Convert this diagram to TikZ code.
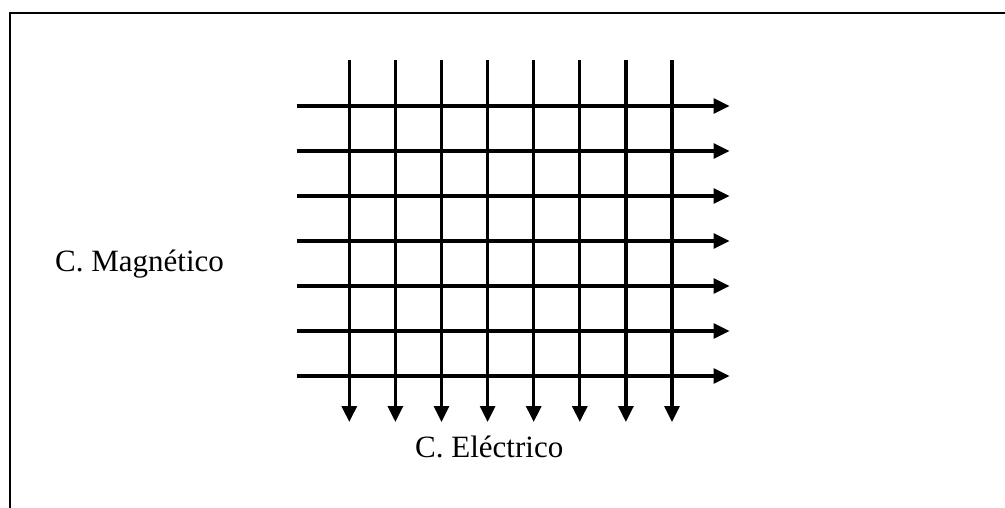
\documentclass[tikz,border=0pt]{standalone}
\usepackage{fontspec}
\setmainfont{Liberation Serif}
\usetikzlibrary{arrows.meta}
\begin{document}
\begin{tikzpicture}[x=1pt,y=-1pt,
  frame/.style={line width=2pt, line cap=butt},
  field/.style={line width=3.2pt, -{Triangle[length=16pt,width=15pt]}},
  lbl/.style={inner sep=0pt, anchor=base west, font=\fontsize{31}{37}\selectfont}]
\useasboundingbox (0,0) rectangle (1005,508);
% frame (top and left sides only visible)
\coordinate (fl) at (10,508);
\coordinate (ftl) at (10,13);
\coordinate (ftr) at (1005,13);
\draw[frame] (fl) -- (ftl) -- (ftr);
% vertical lines (electric field)
\foreach \i in {0,...,7}{
  \coordinate (vt\i) at ({349.3+46.1*\i},60.5);
  \coordinate (vb\i) at ({349.3+46.1*\i},422);
  \draw[field] (vt\i) -- (vb\i);
}
% horizontal lines (magnetic field)
\foreach \j in {0,...,6}{
  \coordinate (hl\j) at (296.5,{106+45*\j});
  \coordinate (hr\j) at (729.5,{106+45*\j});
  \draw[field] (hl\j) -- (hr\j);
}
\node[lbl] (mag) at (55,271) {C. Magnético};
\node[lbl] (ele) at (415,457) {C. Eléctrico};
\end{tikzpicture}
\end{document}
